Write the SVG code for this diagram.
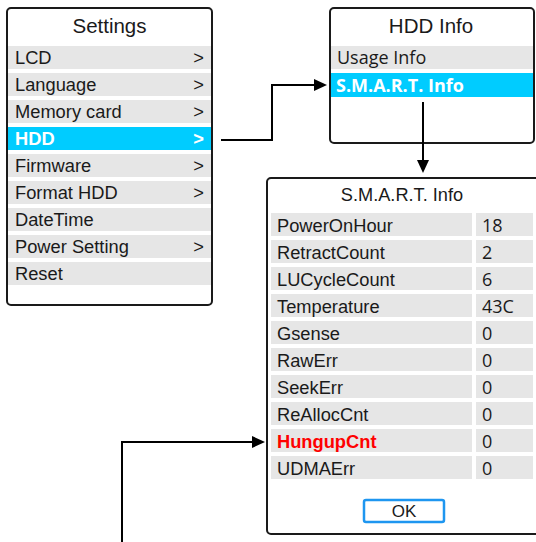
<svg xmlns="http://www.w3.org/2000/svg" width="536" height="542" viewBox="0 0 536 542">
<defs>
<style>
.box{fill:#fff;stroke:#1a1a1a;stroke-width:2}
.row{fill:#e6e6e6}
.sel{fill:#00ccff}
.title{font-family:"Liberation Sans",Arial,sans-serif;font-size:20.5px;fill:#1a1a1a;text-anchor:middle}
.lbl{font-family:"Liberation Sans",Arial,sans-serif;font-size:18.3px;fill:#1a1a1a}
.arr{font-family:"Liberation Sans",Arial,sans-serif;font-size:18.3px;fill:#1a1a1a;text-anchor:end}
.seg{font-family:"Open Sans","Noto Sans",sans-serif;font-size:18px;fill:#1a1a1a}
.w{fill:#fff;font-weight:bold}
.red{fill:#ff0000;font-weight:bold}
.conn{fill:none;stroke:#000;stroke-width:2}
</style>
<marker id="ah" markerUnits="userSpaceOnUse" markerWidth="14" markerHeight="12" refX="1" refY="6" orient="auto">
<path d="M0,0 L13,6 L0,12 z" fill="#000"/>
</marker>
</defs>

<g id="settings">
<rect class="box" x="7" y="8" width="205" height="297" rx="4"/>
<text class="title" x="109.5" y="33">Settings</text>
<rect class="row" x="8" y="46" width="203" height="23"/>
<text class="lbl" x="15" y="64">LCD</text><text class="arr" x="204" y="64">&gt;</text>
<rect class="row" x="8" y="73" width="203" height="23"/>
<text class="lbl" x="15" y="91">Language</text><text class="arr" x="204" y="91">&gt;</text>
<rect class="row" x="8" y="100" width="203" height="23"/>
<text class="lbl" x="15" y="118">Memory card</text><text class="arr" x="204" y="118">&gt;</text>
<rect class="sel" x="8" y="127" width="203" height="23"/>
<text class="lbl w" x="15" y="145">HDD</text><text class="arr w" x="204" y="145">&gt;</text>
<rect class="row" x="8" y="154" width="203" height="23"/>
<text class="lbl" x="15" y="172">Firmware</text><text class="arr" x="204" y="172">&gt;</text>
<rect class="row" x="8" y="181" width="203" height="23"/>
<text class="lbl" x="15" y="199">Format HDD</text><text class="arr" x="204" y="199">&gt;</text>
<rect class="row" x="8" y="208" width="203" height="23"/>
<text class="lbl" x="15" y="226">DateTime</text>
<rect class="row" x="8" y="235" width="203" height="23"/>
<text class="lbl" x="15" y="253">Power Setting</text><text class="arr" x="204" y="253">&gt;</text>
<rect class="row" x="8" y="262" width="203" height="23"/>
<text class="lbl" x="15" y="280">Reset</text>
</g>

<g id="hdd-info">
<rect class="box" x="330" y="8" width="204" height="135" rx="4"/>
<text class="title" x="431" y="33">HDD Info</text>
<rect class="row" x="331" y="46" width="202" height="23"/>
<text class="seg" x="337" y="64">Usage Info</text>
<rect class="sel" x="331" y="73" width="202" height="24"/>
<text class="seg w" x="336" y="92">S.M.A.R.T. Info</text>
</g>

<g id="smart-info">
<rect class="box" x="267" y="178" width="280" height="356" rx="4"/>
<text class="title" x="402" y="201" style="font-size:18.2px">S.M.A.R.T. Info</text>
<g>
<rect class="row" x="271" y="213" width="201" height="23"/><rect class="row" x="476" y="213" width="57" height="23"/>
<text class="lbl" x="277" y="232">PowerOnHour</text><text class="seg" x="482" y="232">18</text>
<rect class="row" x="271" y="240" width="201" height="23"/><rect class="row" x="476" y="240" width="57" height="23"/>
<text class="lbl" x="277" y="259">RetractCount</text><text class="seg" x="482" y="259">2</text>
<rect class="row" x="271" y="267" width="201" height="23"/><rect class="row" x="476" y="267" width="57" height="23"/>
<text class="lbl" x="277" y="286">LUCycleCount</text><text class="seg" x="482" y="286">6</text>
<rect class="row" x="271" y="294" width="201" height="23"/><rect class="row" x="476" y="294" width="57" height="23"/>
<text class="lbl" x="277" y="313">Temperature</text><text class="seg" x="482" y="313">43C</text>
<rect class="row" x="271" y="321" width="201" height="23"/><rect class="row" x="476" y="321" width="57" height="23"/>
<text class="lbl" x="277" y="340">Gsense</text><text class="seg" x="482" y="340">0</text>
<rect class="row" x="271" y="348" width="201" height="23"/><rect class="row" x="476" y="348" width="57" height="23"/>
<text class="lbl" x="277" y="367">RawErr</text><text class="seg" x="482" y="367">0</text>
<rect class="row" x="271" y="375" width="201" height="23"/><rect class="row" x="476" y="375" width="57" height="23"/>
<text class="lbl" x="277" y="394">SeekErr</text><text class="seg" x="482" y="394">0</text>
<rect class="row" x="271" y="402" width="201" height="23"/><rect class="row" x="476" y="402" width="57" height="23"/>
<text class="lbl" x="277" y="421">ReAllocCnt</text><text class="seg" x="482" y="421">0</text>
<rect class="row" x="271" y="429" width="201" height="23"/><rect class="row" x="476" y="429" width="57" height="23"/>
<text class="lbl red" x="277" y="448">HungupCnt</text><text class="seg" x="482" y="448">0</text>
<rect class="row" x="271" y="456" width="201" height="23"/><rect class="row" x="476" y="456" width="57" height="23"/>
<text class="lbl" x="277" y="475">UDMAErr</text><text class="seg" x="482" y="475">0</text>
</g>
<rect x="364" y="500" width="80" height="22" rx="2" fill="#fff" stroke="#1e96f0" stroke-width="2.5"/>
<text class="title" x="404" y="517" style="font-size:17px">OK</text>
</g>

<g id="connectors">
<path class="conn" d="M221,140 H272 V85 H315" marker-end="url(#ah)"/>
<path class="conn" d="M423,102 V161" marker-end="url(#ah)"/>
<path class="conn" d="M122,545 V442 H253" marker-end="url(#ah)"/>
</g>
</svg>
